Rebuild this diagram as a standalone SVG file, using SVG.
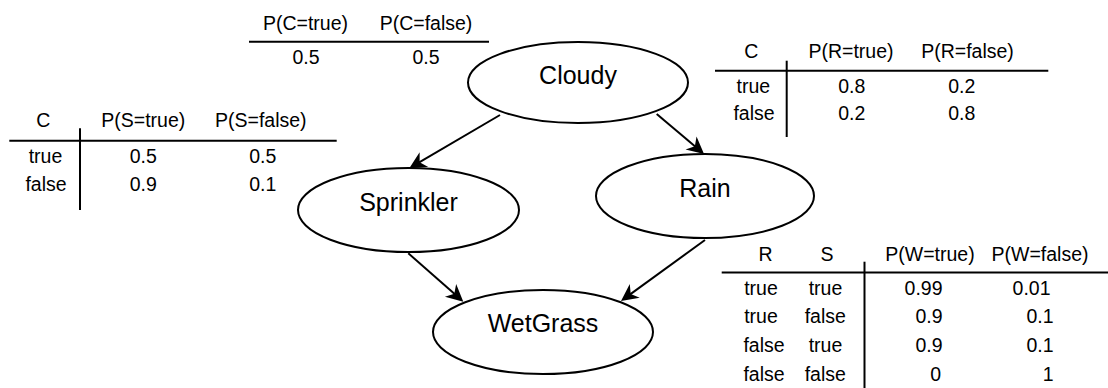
<svg xmlns="http://www.w3.org/2000/svg" width="1108" height="388" viewBox="0 0 1108 388">
<style>
  .node ellipse { fill: #fff; stroke: #000; stroke-width: 2; }
  .node text { font-family: "Liberation Sans", Arial, sans-serif; font-size: 25px; fill: #000; text-anchor: middle; }
  .tbl text { font-family: "Liberation Sans", Arial, sans-serif; font-size: 19.5px; fill: #000; text-anchor: middle; }
  .tbl line { stroke: #000; stroke-width: 2; }
  .edge { stroke: #000; stroke-width: 2; fill: none; marker-end: url(#arrow); }
</style>
<defs>
  <marker id="arrow" viewBox="-18 -10 20 20" refX="-10" refY="0" markerWidth="20" markerHeight="20" markerUnits="userSpaceOnUse" orient="auto">
    <path d="M0,0 L-17,-8.5 L-12,0 L-17,8.5 Z" fill="#000"/>
  </marker>
</defs>
<rect width="1108" height="388" fill="#fff"/>

<g id="table-cloudy" class="tbl">
  <text x="305.5" y="30">P(C=true)</text>
  <text x="426" y="30">P(C=false)</text>
  <line x1="249" y1="41.7" x2="489" y2="41.7"/>
  <text x="306" y="64">0.5</text>
  <text x="426" y="64">0.5</text>
</g>

<g id="table-rain" class="tbl">
  <text x="751.3" y="58.3">C</text>
  <text x="851" y="58.3">P(R=true)</text>
  <text x="967.5" y="58.3">P(R=false)</text>
  <line x1="715" y1="70.7" x2="1048.3" y2="70.7"/>
  <line x1="786.7" y1="60.7" x2="786.7" y2="137"/>
  <text x="753.3" y="93.3">true</text>
  <text x="851.7" y="93.3">0.8</text>
  <text x="961.7" y="93.3">0.2</text>
  <text x="754" y="120">false</text>
  <text x="851.7" y="120">0.2</text>
  <text x="961.7" y="120">0.8</text>
</g>

<g id="table-sprinkler" class="tbl">
  <text x="43.3" y="126.7">C</text>
  <text x="143.3" y="126.7">P(S=true)</text>
  <text x="260.8" y="126.7">P(S=false)</text>
  <line x1="9.3" y1="140.7" x2="336.7" y2="140.7"/>
  <line x1="80" y1="128.3" x2="80" y2="210"/>
  <text x="45.5" y="162.7">true</text>
  <text x="143.3" y="162.7">0.5</text>
  <text x="262.7" y="162.7">0.5</text>
  <text x="46" y="190.7">false</text>
  <text x="143.3" y="190.7">0.9</text>
  <text x="262.7" y="190.7">0.1</text>
</g>

<g id="table-wetgrass" class="tbl">
  <text x="765.5" y="261">R</text>
  <text x="827" y="261">S</text>
  <text x="930" y="261">P(W=true)</text>
  <text x="1040" y="261">P(W=false)</text>
  <line x1="721.7" y1="272.5" x2="1108" y2="272.5"/>
  <line x1="864.5" y1="261.7" x2="864.5" y2="388"/>
  <text x="761" y="295">true</text>
  <text x="825.5" y="295">true</text>
  <text x="942.5" y="295" style="text-anchor:end">0.99</text>
  <text x="1050.5" y="295" style="text-anchor:end">0.01</text>
  <text x="761" y="323.3">true</text>
  <text x="825.3" y="323.3">false</text>
  <text x="942.5" y="323.3" style="text-anchor:end">0.9</text>
  <text x="1053.5" y="323.3" style="text-anchor:end">0.1</text>
  <text x="764" y="351.7">false</text>
  <text x="825.5" y="351.7">true</text>
  <text x="942.5" y="351.7" style="text-anchor:end">0.9</text>
  <text x="1053.5" y="351.7" style="text-anchor:end">0.1</text>
  <text x="764" y="380.5">false</text>
  <text x="825.3" y="380.5">false</text>
  <text x="941" y="380.5" style="text-anchor:end">0</text>
  <text x="1053.5" y="380.5" style="text-anchor:end">1</text>
</g>

<g id="connectors">
  <line class="edge" x1="500" y1="115" x2="417.9" y2="163.2"/>
  <line class="edge" x1="656.7" y1="114" x2="696.4" y2="147.5"/>
  <line class="edge" x1="408.3" y1="253.3" x2="455.8" y2="295.1"/>
  <line class="edge" x1="705" y1="240" x2="629.1" y2="295.1"/>
</g>

<g id="node-cloudy" class="node">
  <ellipse cx="578" cy="82.5" rx="110" ry="40.5"/>
  <text x="578" y="84">Cloudy</text>
</g>
<g id="node-sprinkler" class="node">
  <ellipse cx="408.5" cy="210" rx="110.5" ry="42"/>
  <text x="408.5" y="211">Sprinkler</text>
</g>
<g id="node-rain" class="node">
  <ellipse cx="705" cy="196" rx="109" ry="42"/>
  <text x="705" y="197">Rain</text>
</g>
<g id="node-wetgrass" class="node">
  <ellipse cx="543" cy="332" rx="110" ry="42"/>
  <text x="543" y="332">WetGrass</text>
</g>
</svg>
